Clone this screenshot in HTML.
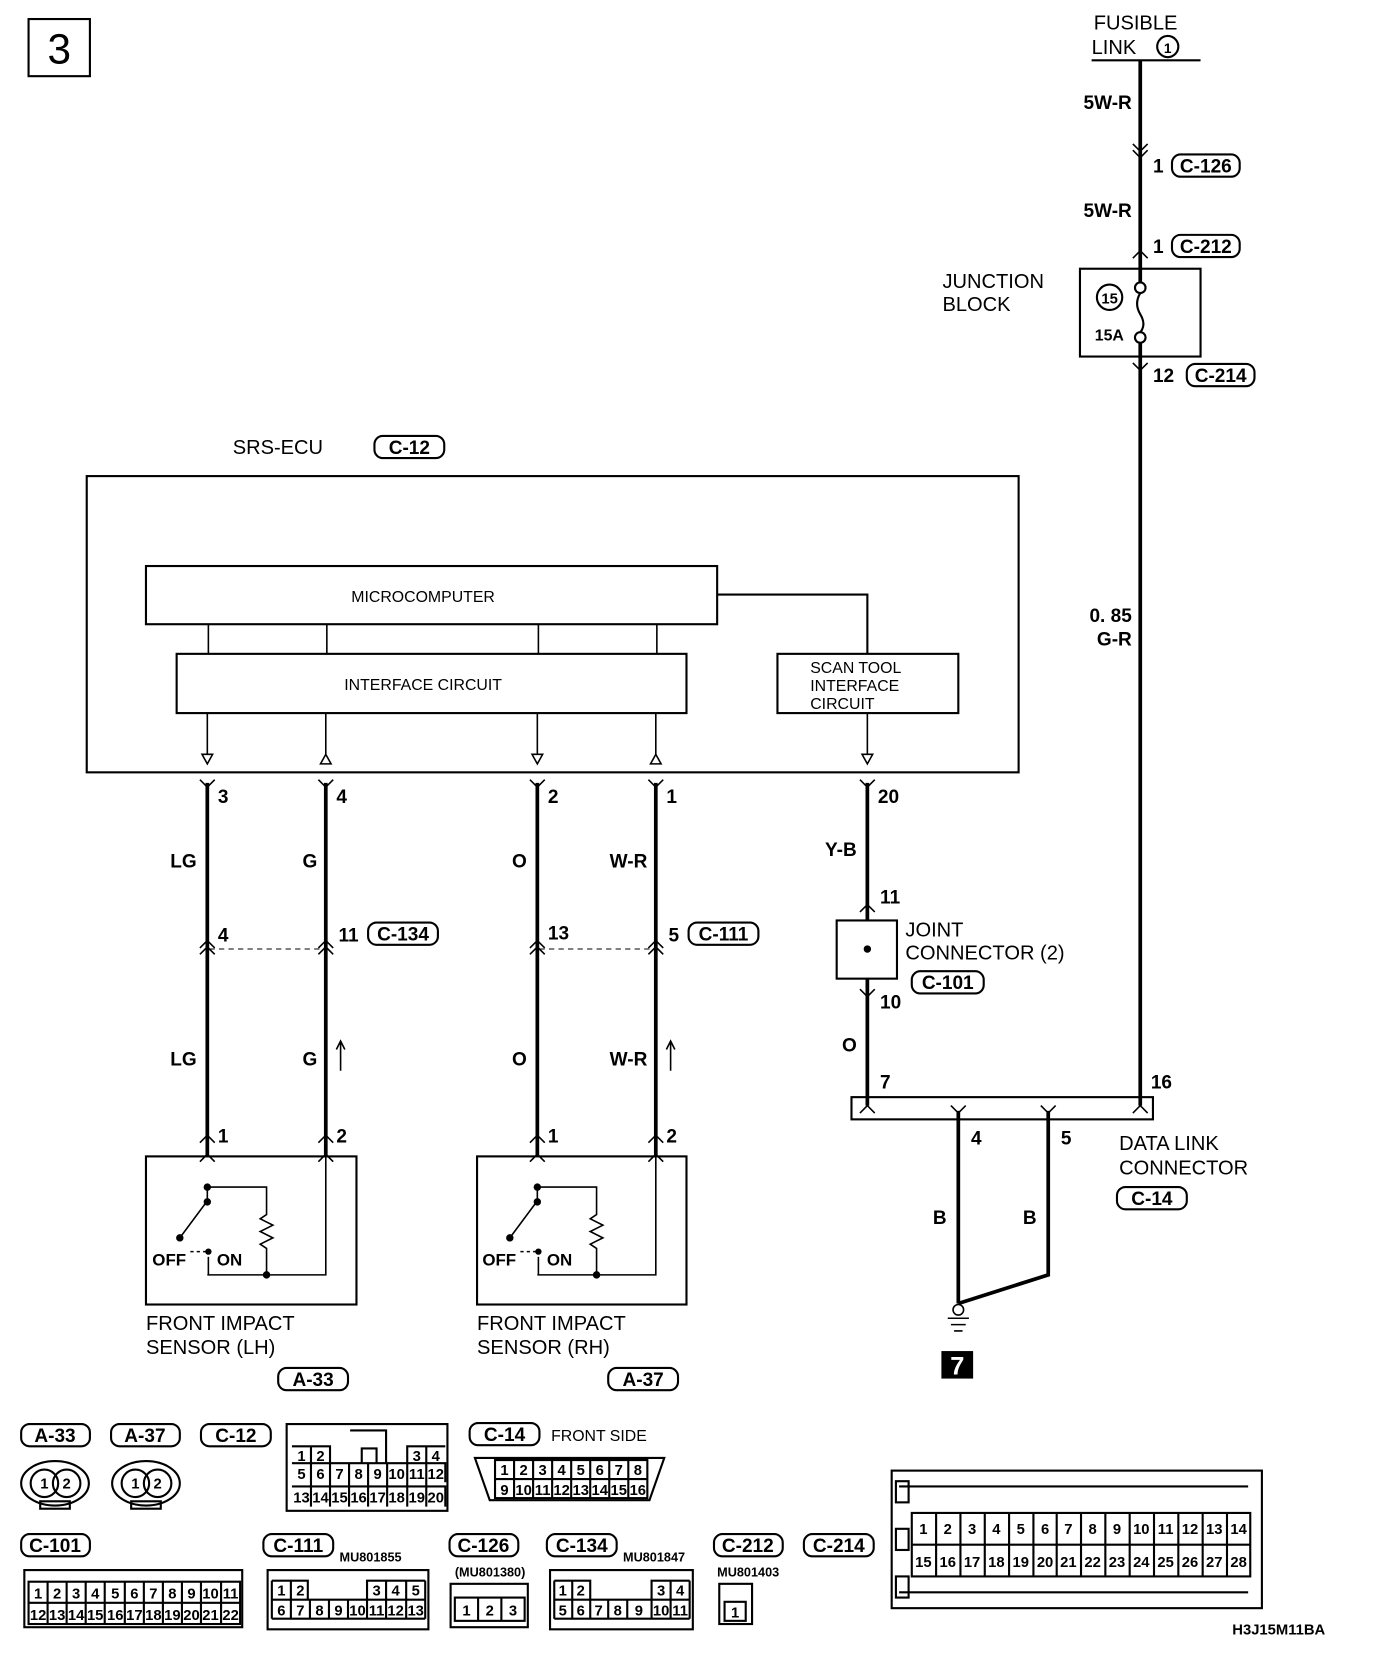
<!DOCTYPE html>
<html><head><meta charset="utf-8"><style>
html,body{margin:0;padding:0;background:#fff;}
svg{display:block;}
text{font-family:"Liberation Sans",sans-serif;fill:#000;}
.n{font-family:"Liberation Sans Narrow","Liberation Sans",sans-serif;font-weight:bold;}
</style></head><body>
<svg width="1392" height="1660" viewBox="0 0 1316 1569" preserveAspectRatio="none" xmlns="http://www.w3.org/2000/svg">
<g fill="none" stroke="#000" stroke-width="2">
<rect x="27" y="18" width="58" height="54"/>
<line x1="1032" y1="57" x2="1135" y2="57"/>
<rect x="1021" y="254" width="114" height="83"/>
<circle cx="1078" cy="272" r="5"/><circle cx="1078" cy="319" r="5"/>
<path d="M1078 277 q-6 10 0 20 q6 10 0 17"/>
<circle cx="1049" cy="281" r="12"/>
<circle cx="1104" cy="44" r="10"/>
<rect x="82" y="450" width="881" height="280"/>
<rect x="138" y="535" width="540" height="55"/>
<rect x="167" y="618" width="482" height="56"/>
<rect x="735" y="618" width="171" height="56"/>
<path d="M678 562 H820 V618"/>
<path d="M197 590V618M309 590V618M509 590V618M621 590V618" stroke-width="1.5"/>
<path d="M196 674V713M308 674V713M508 674V713M620 674V713M820 674V713" stroke-width="1.5"/>
<path d="M191 713h10l-5 9zM503 713h10l-5 9zM815 713h10l-5 9z" stroke-width="1.5"/>
<path d="M303 722h10l-5-9zM615 722h10l-5-9z" stroke-width="1.5"/>
<rect x="791" y="870" width="57" height="55"/>
<rect x="805" y="1037" width="285" height="21"/>
<rect x="138" y="1093" width="199" height="140"/>
<rect x="451" y="1093" width="198" height="140"/>
</g>
<g stroke="#000" stroke-width="3.5" fill="none">
<line x1="1078" y1="57" x2="1078" y2="267"/>
<line x1="1078" y1="324" x2="1078" y2="1045"/>
<line x1="196" y1="740" x2="196" y2="1093"/>
<line x1="308" y1="740" x2="308" y2="1093"/>
<line x1="508" y1="740" x2="508" y2="1093"/>
<line x1="620" y1="740" x2="620" y2="1093"/>
<line x1="820" y1="740" x2="820" y2="870"/>
<line x1="820" y1="925" x2="820" y2="1045"/>
<path d="M906 1050V1232M991 1050V1205L906 1232"/>
</g>
<g stroke="#000" stroke-width="1.5" fill="none">
<path d="M1071 136l7 7 7-7M1071 142l7 7 7-7"/>
<path d="M1071 244l7-7 7 7"/>
<path d="M1071 343l7 7 7-7"/>
<path d="M189 737l7 7 7-7M301 737l7 7 7-7M501 737l7 7 7-7M613 737l7 7 7-7M813 737l7 7 7-7"/>
<path d="M189 896l7-7 7 7M189 902l7-7 7 7M301 896l7-7 7 7M301 902l7-7 7 7M501 896l7-7 7 7M501 902l7-7 7 7M613 896l7-7 7 7M613 902l7-7 7 7"/>
<path d="M198 897H306M510 897H618" stroke-dasharray="5 4" stroke-width="1"/>
<path d="M189 1080l7-7 7 7M301 1080l7-7 7 7M501 1080l7-7 7 7M613 1080l7-7 7 7"/>
<path d="M189 1098l7-7 7 7M301 1098l7-7 7 7M501 1098l7-7 7 7M613 1098l7-7 7 7"/>
<path d="M813 862l7-7 7 7M813 935l7 7 7-7M813 1052l7-7 7 7M1071 1052l7-7 7 7M899 1045l7 7 7-7M984 1045l7 7 7-7"/>
<path d="M322 1012V985M318 992l4-8 4 8M634 1012V985M630 992l4-8 4 8"/>
<circle cx="906" cy="1238" r="5"/>
<path d="M896 1246h20M899 1252h14M902 1258h8"/>
<path d="M196 1122H252V1148l-6 4 12 6-12 6 12 6-12 6 6 4V1205H196M308 1093V1205H252"/>
<path d="M196 1122V1135L170 1170M197 1188V1205"/>
<path d="M180 1183H195" stroke-dasharray="3 3"/>
<path d="M508 1122H564V1148l-6 4 12 6-12 6 12 6-12 6 6 4V1205H508M620 1093V1205H564"/>
<path d="M508 1122V1135L482 1170M509 1188V1205"/>
<path d="M492 1183H507" stroke-dasharray="3 3"/>
</g>
<g fill="#000">
<circle cx="196" cy="1122" r="3.5"/><circle cx="196" cy="1136" r="3.5"/><circle cx="170" cy="1170" r="3.5"/><circle cx="197" cy="1183" r="3"/><circle cx="252" cy="1205" r="3.5"/>
<circle cx="508" cy="1122" r="3.5"/><circle cx="508" cy="1136" r="3.5"/><circle cx="482" cy="1170" r="3.5"/><circle cx="509" cy="1183" r="3"/><circle cx="564" cy="1205" r="3.5"/>
<circle cx="820" cy="897" r="3.5"/>
<rect x="890" y="1277" width="30" height="26"/>
</g>
<text x="905" y="1299" font-size="24" font-weight="bold" text-anchor="middle" style="fill:#fff">7</text>
<text x="56" y="60" font-size="40" text-anchor="middle">3</text>

<g font-size="19">
<text x="1034" y="28">FUSIBLE</text>
<text x="1032" y="51">LINK</text>
<text x="891" y="272">JUNCTION</text>
<text x="891" y="294">BLOCK</text>
<text x="220" y="429">SRS-ECU</text>
<text x="856" y="885">JOINT</text>
<text x="856" y="907">CONNECTOR (2)</text>
<text x="1058" y="1087">DATA LINK</text>
<text x="1058" y="1110">CONNECTOR</text>
<text x="138" y="1257">FRONT IMPACT</text>
<text x="138" y="1280">SENSOR  (LH)</text>
<text x="451" y="1257">FRONT IMPACT</text>
<text x="451" y="1280">SENSOR  (RH)</text>
</g>
<g font-size="15">
<text x="400" y="569" text-anchor="middle">MICROCOMPUTER</text>
<text x="400" y="652" text-anchor="middle">INTERFACE CIRCUIT</text>
<text x="766" y="636">SCAN TOOL</text>
<text x="766" y="653">INTERFACE</text>
<text x="766" y="670">CIRCUIT</text>
<text x="521" y="1362">FRONT SIDE</text>
</g>
<g class="n" font-size="18">
<text x="1104" y="50" font-size="13" text-anchor="middle">1</text>
<text x="1049" y="287" font-size="14" text-anchor="middle">15</text>
<text x="1035" y="322" font-size="15">15A</text>
<text x="1070" y="103" text-anchor="end">5W-R</text>
<text x="1070" y="205" text-anchor="end">5W-R</text>
<text x="1070" y="588" text-anchor="end">0. 85</text>
<text x="1070" y="610" text-anchor="end">G-R</text>
<text x="1090" y="163">1</text><text x="1090" y="239">1</text><text x="1090" y="361">12</text>
<text x="206" y="759">3</text><text x="318" y="759">4</text><text x="518" y="759">2</text><text x="630" y="759">1</text><text x="830" y="759">20</text>
<text x="186" y="820" text-anchor="end">LG</text><text x="300" y="820" text-anchor="end">G</text><text x="498" y="820" text-anchor="end">O</text><text x="612" y="820" text-anchor="end">W-R</text><text x="810" y="809" text-anchor="end">Y-B</text>
<text x="206" y="890">4</text><text x="320" y="890">11</text><text x="518" y="888">13</text><text x="632" y="890">5</text>
<text x="186" y="1007" text-anchor="end">LG</text><text x="300" y="1007" text-anchor="end">G</text><text x="498" y="1007" text-anchor="end">O</text><text x="612" y="1007" text-anchor="end">W-R</text>
<text x="206" y="1080">1</text><text x="318" y="1080">2</text><text x="518" y="1080">1</text><text x="630" y="1080">2</text>
<text x="832" y="854">11</text><text x="832" y="953">10</text><text x="810" y="994" text-anchor="end">O</text>
<text x="832" y="1029">7</text><text x="1088" y="1029">16</text>
<text x="918" y="1082">4</text><text x="1003" y="1082">5</text>
<text x="895" y="1157" text-anchor="end">B</text><text x="980" y="1157" text-anchor="end">B</text>
<text x="144" y="1196" font-size="16">OFF</text><text x="205" y="1196" font-size="16">ON</text>
<text x="456" y="1196" font-size="16">OFF</text><text x="517" y="1196" font-size="16">ON</text>
<text x="1165" y="1545" font-size="14">H3J15M11BA</text>
<text x="321" y="1476" font-size="12">MU801855</text>
<text x="430" y="1490" font-size="12">(MU801380)</text>
<text x="589" y="1476" font-size="12">MU801847</text>
<text x="678" y="1490" font-size="12">MU801403</text>
</g>

<g fill="none" stroke="#000" stroke-width="2">
<rect x="1108" y="146" width="64" height="21" rx="8"/>
<rect x="1108" y="222" width="64" height="21" rx="8"/>
<rect x="1122" y="344" width="64" height="21" rx="8"/>
<rect x="354" y="412" width="66" height="21" rx="8"/>
<rect x="348" y="872" width="66" height="21" rx="8"/>
<rect x="651" y="872" width="66" height="21" rx="8"/>
<rect x="862" y="918" width="68" height="21" rx="8"/>
<rect x="1056" y="1122" width="66" height="21" rx="8"/>
<rect x="263" y="1293" width="66" height="21" rx="8"/>
<rect x="575" y="1293" width="66" height="21" rx="8"/>
<rect x="20" y="1346" width="65" height="21" rx="8"/>
<rect x="105" y="1346" width="65" height="21" rx="8"/>
<rect x="190" y="1346" width="66" height="21" rx="8"/>
<rect x="444" y="1345" width="66" height="21" rx="8"/>
<rect x="20" y="1450" width="65" height="21" rx="8"/>
<rect x="249" y="1450" width="66" height="21" rx="8"/>
<rect x="425" y="1450" width="65" height="21" rx="8"/>
<rect x="517" y="1450" width="66" height="21" rx="8"/>
<rect x="675" y="1450" width="65" height="21" rx="8"/>
<rect x="760" y="1450" width="66" height="21" rx="8"/>
</g>
<g class="n" font-size="18" text-anchor="middle">
<text x="1140" y="163">C-126</text><text x="1140" y="239">C-212</text><text x="1154" y="361">C-214</text>
<text x="387" y="429">C-12</text><text x="381" y="889">C-134</text><text x="684" y="889">C-111</text>
<text x="896" y="935">C-101</text><text x="1089" y="1139">C-14</text>
<text x="296" y="1310">A-33</text><text x="608" y="1310">A-37</text>
<text x="52" y="1363">A-33</text><text x="137" y="1363">A-37</text><text x="223" y="1363">C-12</text><text x="477" y="1362">C-14</text>
<text x="52" y="1467">C-101</text><text x="282" y="1467">C-111</text><text x="457" y="1467">C-126</text><text x="550" y="1467">C-134</text><text x="707" y="1467">C-212</text><text x="793" y="1467">C-214</text>
</g>

<g fill="none" stroke="#000" stroke-width="2">
<ellipse cx="52" cy="1402" rx="32" ry="21"/><circle cx="42" cy="1402" r="13"/><circle cx="63" cy="1402" r="13"/><rect x="38" y="1419" width="28" height="7"/>
<ellipse cx="138" cy="1402" rx="32" ry="21"/><circle cx="128" cy="1402" r="13"/><circle cx="149" cy="1402" r="13"/><rect x="124" y="1419" width="28" height="7"/>
<rect x="271" y="1346" width="152" height="82"/>
<path d="M276 1367h36v16M385 1383v-16h36M276 1383h145v18M276 1405h145v19M294 1367v57M312 1383v41M330 1383v41M348 1383v41M366 1383v41M385 1383v41M403 1367v57M331 1352h34v31M342 1383v-14h14v14"/>
<path d="M449 1378h179l-14 40H463z"/>
<rect x="468" y="1380" width="144" height="36"/><path d="M468 1398h144M486 1380v36M504 1380v36M522 1380v36M540 1380v36M558 1380v36M576 1380v36M594 1380v36"/>
<rect x="843" y="1390" width="350" height="130"/>
<rect x="862" y="1430" width="320" height="60"/><path d="M862 1460h320M885 1430v60M908 1430v60M931 1430v60M954 1430v60M977 1430v60M999 1430v60M1022 1430v60M1045 1430v60M1068 1430v60M1091 1430v60M1114 1430v60M1137 1430v60M1160 1430v60"/>
<path d="M850 1405h330M850 1505h330"/>
<rect x="847" y="1400" width="12" height="20"/><rect x="847" y="1445" width="12" height="20"/><rect x="847" y="1490" width="12" height="20"/>
<rect x="23" y="1484" width="206" height="54"/>
<rect x="27" y="1495" width="200" height="40"/><path d="M27 1515h200M45 1495v40M63 1495v40M81 1495v40M99 1495v40M118 1495v40M136 1495v40M154 1495v40M172 1495v40M190 1495v40M209 1495v40"/>
<rect x="253" y="1484" width="152" height="56"/>
<path d="M257 1494h34v18M347 1512v-18h55M257 1512h145v18M257 1530h145M275 1494v36M293 1512v18M311 1512v18M329 1512v18M347 1512v18M365 1494v36M384 1494v36M402 1494v36M257 1494v36"/>
<rect x="426" y="1497" width="73" height="41"/>
<rect x="430" y="1510" width="66" height="22"/><path d="M452 1510v22M474 1510v22"/>
<rect x="520" y="1484" width="135" height="56"/>
<path d="M524 1494h34v18M616 1512v-18h36M524 1512h128v18M524 1530h128M541 1494v36M558 1512v18M575 1512v18M593 1512v18M616 1494v36M634 1494v36M652 1494v36M524 1494v36"/>
<rect x="680" y="1497" width="31" height="38"/><rect x="685" y="1514" width="20" height="18"/>
</g>
<g class="n" font-size="14" text-anchor="middle">
<text x="42" y="1407">1</text><text x="63" y="1407">2</text><text x="128" y="1407">1</text><text x="149" y="1407">2</text>
<text x="285" y="1381">1</text><text x="303" y="1381">2</text><text x="394" y="1381">3</text><text x="412" y="1381">4</text>
<text x="285" y="1398">5</text><text x="303" y="1398">6</text><text x="321" y="1398">7</text><text x="339" y="1398">8</text><text x="357" y="1398">9</text><text x="375" y="1398">10</text><text x="394" y="1398">11</text><text x="412" y="1398">12</text>
<text x="285" y="1420">13</text><text x="303" y="1420">14</text><text x="321" y="1420">15</text><text x="339" y="1420">16</text><text x="357" y="1420">17</text><text x="375" y="1420">18</text><text x="394" y="1420">19</text><text x="412" y="1420">20</text>
<text x="477" y="1394">1</text><text x="495" y="1394">2</text><text x="513" y="1394">3</text><text x="531" y="1394">4</text><text x="549" y="1394">5</text><text x="567" y="1394">6</text><text x="585" y="1394">7</text><text x="603" y="1394">8</text>
<text x="477" y="1413">9</text><text x="495" y="1413">10</text><text x="513" y="1413">11</text><text x="531" y="1413">12</text><text x="549" y="1413">13</text><text x="567" y="1413">14</text><text x="585" y="1413">15</text><text x="603" y="1413">16</text>
<text x="873" y="1450">1</text><text x="896" y="1450">2</text><text x="919" y="1450">3</text><text x="942" y="1450">4</text><text x="965" y="1450">5</text><text x="988" y="1450">6</text><text x="1010" y="1450">7</text><text x="1033" y="1450">8</text><text x="1056" y="1450">9</text><text x="1079" y="1450">10</text><text x="1102" y="1450">11</text><text x="1125" y="1450">12</text><text x="1148" y="1450">13</text><text x="1171" y="1450">14</text>
<text x="873" y="1481">15</text><text x="896" y="1481">16</text><text x="919" y="1481">17</text><text x="942" y="1481">18</text><text x="965" y="1481">19</text><text x="988" y="1481">20</text><text x="1010" y="1481">21</text><text x="1033" y="1481">22</text><text x="1056" y="1481">23</text><text x="1079" y="1481">24</text><text x="1102" y="1481">25</text><text x="1125" y="1481">26</text><text x="1148" y="1481">27</text><text x="1171" y="1481">28</text>
<text x="36" y="1511">1</text><text x="54" y="1511">2</text><text x="72" y="1511">3</text><text x="90" y="1511">4</text><text x="109" y="1511">5</text><text x="127" y="1511">6</text><text x="145" y="1511">7</text><text x="163" y="1511">8</text><text x="181" y="1511">9</text><text x="199" y="1511">10</text><text x="218" y="1511">11</text>
<text x="36" y="1531">12</text><text x="54" y="1531">13</text><text x="72" y="1531">14</text><text x="90" y="1531">15</text><text x="109" y="1531">16</text><text x="127" y="1531">17</text><text x="145" y="1531">18</text><text x="163" y="1531">19</text><text x="181" y="1531">20</text><text x="199" y="1531">21</text><text x="218" y="1531">22</text>
<text x="266" y="1508">1</text><text x="284" y="1508">2</text><text x="356" y="1508">3</text><text x="374" y="1508">4</text><text x="393" y="1508">5</text>
<text x="266" y="1527">6</text><text x="284" y="1527">7</text><text x="302" y="1527">8</text><text x="320" y="1527">9</text><text x="338" y="1527">10</text><text x="356" y="1527">11</text><text x="374" y="1527">12</text><text x="393" y="1527">13</text>
<text x="441" y="1527">1</text><text x="463" y="1527">2</text><text x="485" y="1527">3</text>
<text x="532" y="1508">1</text><text x="549" y="1508">2</text><text x="625" y="1508">3</text><text x="643" y="1508">4</text>
<text x="532" y="1527">5</text><text x="549" y="1527">6</text><text x="566" y="1527">7</text><text x="584" y="1527">8</text><text x="604" y="1527">9</text><text x="625" y="1527">10</text><text x="643" y="1527">11</text>
<text x="695" y="1529">1</text>
</g>
</svg>
</body></html>
